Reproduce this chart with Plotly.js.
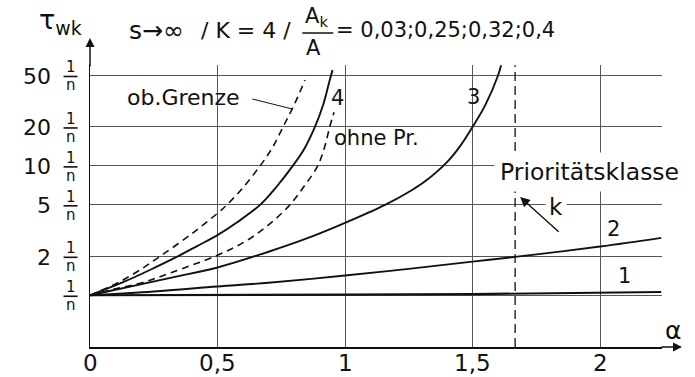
<!DOCTYPE html>
<html>
<head>
<meta charset="utf-8">
<script src="https://cdn.plot.ly/plotly-3.0.1.min.js"></script>
<style>html,body{margin:0;padding:0;background:#fff;}#chart{width:695px;height:377px;}</style>
</head>
<body>
<div id="chart"></div>
<script>
// ---- data (alpha on x, tau_wk in units of 1/n on y) ----
const curve1X = [0, 0.5, 1.0, 1.5, 2.0, 2.24];
const curve1Y = [1, 1.0, 1.01, 1.02, 1.04, 1.06];

const curve2X = [0, 0.25, 0.5, 0.7, 1.0, 1.25, 1.5, 1.667, 2.0, 2.24];
const curve2Y = [1, 1.07, 1.17, 1.25, 1.42, 1.6, 1.82, 1.98, 2.38, 2.78];

const curve3X = [0, 0.32, 0.5, 0.7, 0.85, 1.0, 1.157, 1.26, 1.314, 1.4, 1.45, 1.5, 1.55, 1.6, 1.612];
const curve3Y = [1, 1.37, 1.64, 2.17, 2.75, 3.63, 5.0, 6.46, 7.6, 10.7, 14.1, 20, 29.5, 50, 60];

const curve4X = [0, 0.125, 0.25, 0.336, 0.42, 0.5, 0.58, 0.667, 0.73, 0.795, 0.84, 0.882, 0.915, 0.94, 0.951];
const curve4Y = [1, 1.25, 1.62, 1.96, 2.4, 2.92, 3.7, 5, 6.84, 10, 13.5, 20, 30, 46, 55];

const obGrenzeX = [0, 0.092, 0.18, 0.275, 0.4, 0.5, 0.537, 0.6, 0.667, 0.715, 0.757, 0.8, 0.843];
const obGrenzeY = [1, 1.2, 1.5, 2, 3.0, 4.3, 5, 6.8, 10, 13.8, 20, 29.5, 46];

const ohnePrX = [0, 0.1, 0.21, 0.32, 0.5, 0.608, 0.7, 0.784, 0.845, 0.893, 0.92, 0.94, 0.957];
const ohnePrY = [1, 1.12, 1.26, 1.5, 2.04, 2.6, 3.5, 5, 7.2, 10, 14, 20, 26];

const limitAlpha = 1.667;

const xTickVals = [0, 0.5, 1, 1.5, 2];
const xTickText = ["0", "0,5", "1", "1,5", "2"];
const yTickVals = [1, 2, 5, 10, 20, 50];
const yTickNums = ["", "2", "5", "10", "20", "50"];

// ---- layout geometry ----
const FONT = "DejaVu Sans";
const L = 89.5, R = 33, T = 65, B = 30;
const Wd = 695 - L - R, Ht = 377 - T - B;
const yRange = [-0.40, 1.78];
const xRange = [0, 2.243];
const px2x = px => (px - L) / Wd;
const py2y = py => (T + Ht - py) / Ht;
const v2py = v => T + Ht - (Math.log10(v) - yRange[0]) / (yRange[1] - yRange[0]) * Ht;

const sm = {color: "#111", width: 1.9, shape: "spline", smoothing: 1};
const dashed = {color: "#111", width: 1.6, dash: "7px,5px", shape: "spline", smoothing: 1};

const traces = [
  {x: curve1X, y: curve1Y, mode: "lines", line: {color: "#111", width: 2.2}, name: "1"},
  {x: curve2X, y: curve2Y, mode: "lines", line: sm, name: "2"},
  {x: curve3X, y: curve3Y, mode: "lines", line: sm, name: "3"},
  {x: curve4X, y: curve4Y, mode: "lines", line: sm, name: "4"},
  {x: obGrenzeX, y: obGrenzeY, mode: "lines", line: dashed, name: "ob. Grenze"},
  {x: ohnePrX, y: ohnePrY, mode: "lines", line: dashed, name: "ohne Pr."},
  {x: [limitAlpha, limitAlpha], y: [Math.pow(10, yRange[0]), 60], mode: "lines",
   line: {color: "#111", width: 1.3, dash: "9px,5px"}, name: "limit"}
];

const ann = [];
const shapes = [];
// y tick labels: number + stacked fraction 1/n
yTickVals.forEach((v, i) => {
  const py = v2py(v);
  if (yTickNums[i]) {
    ann.push({xref: "paper", yref: "paper", x: px2x(52), y: py2y(py + 1), xanchor: "right", yanchor: "middle",
      text: yTickNums[i], showarrow: false, font: {family: FONT, size: 22, color: "#111"}});
  }
  ann.push({xref: "paper", yref: "paper", x: px2x(70), y: py2y(py), xanchor: "center", yanchor: "bottom",
    text: "1", showarrow: false, font: {family: FONT, size: 15, color: "#111"}, height: 14, borderpad: 0});
  ann.push({xref: "paper", yref: "paper", x: px2x(70), y: py2y(py + 2), xanchor: "center", yanchor: "top",
    text: "n", showarrow: false, font: {family: FONT, size: 15, color: "#111"}, height: 14, borderpad: 0});
  shapes.push({type: "line", xref: "paper", yref: "paper", x0: px2x(63), x1: px2x(77),
    y0: py2y(py + 1), y1: py2y(py + 1), line: {color: "#111", width: 1.6}});
});

// x tick labels
xTickVals.forEach((v, i) => {
  ann.push({xref: "x", yref: "paper", x: v, y: py2y(363), xanchor: "center", yanchor: "middle",
    text: xTickText[i], showarrow: false, font: {family: FONT, size: 23, color: "#111"}});
});

// axis arrows
ann.push({xref: "paper", yref: "paper", x: 0, y: py2y(38), ax: 0, ay: 30, axref: "pixel", ayref: "pixel",
  text: "", showarrow: true, arrowhead: 2, arrowsize: 1.2, arrowwidth: 1.5, arrowcolor: "#111"});
ann.push({xref: "paper", yref: "paper", x: px2x(682), y: 0, ax: -22, ay: 0, axref: "pixel", ayref: "pixel",
  text: "", showarrow: true, arrowhead: 2, arrowsize: 1.2, arrowwidth: 1.5, arrowcolor: "#111"});

// axis titles
ann.push({xref: "paper", yref: "paper", x: px2x(60), y: py2y(22), xanchor: "center", yanchor: "middle",
  text: "τ<sub>wk</sub>", showarrow: false, font: {family: FONT, size: 27, color: "#111"}});
ann.push({xref: "paper", yref: "paper", x: px2x(673), y: py2y(330), xanchor: "center", yanchor: "middle",
  text: "α", showarrow: false, font: {family: FONT, size: 25, color: "#111"}});

// title pieces
const tf = {family: FONT, size: 21, color: "#111"};
ann.push({xref: "paper", yref: "paper", x: px2x(127), y: py2y(30), xanchor: "left", yanchor: "middle",
  text: "s→∞", showarrow: false, font: {family: FONT, size: 25, color: "#111"}});
ann.push({xref: "paper", yref: "paper", x: px2x(199), y: py2y(30), xanchor: "left", yanchor: "middle",
  text: "/ K = 4 /", showarrow: false, font: {family: FONT, size: 22, color: "#111"}});
ann.push({xref: "paper", yref: "paper", x: px2x(303), y: py2y(32), xanchor: "left", yanchor: "bottom",
  text: "A<sub>k</sub>", showarrow: false, font: tf});
ann.push({xref: "paper", yref: "paper", x: px2x(313), y: py2y(34), xanchor: "center", yanchor: "top",
  text: "A", showarrow: false, font: tf});
shapes.push({type: "line", xref: "paper", yref: "paper", x0: px2x(302), x1: px2x(333),
  y0: py2y(33), y1: py2y(33), line: {color: "#111", width: 1.5}});
ann.push({xref: "paper", yref: "paper", x: px2x(334), y: py2y(30), xanchor: "left", yanchor: "middle",
  text: "= 0,03;0,25;0,32;0,4", showarrow: false, font: tf});

// curve labels
const lf = {family: FONT, size: 21, color: "#111"};
ann.push({xref: "paper", yref: "paper", x: px2x(125), y: py2y(97), xanchor: "left", yanchor: "middle",
  text: "ob.Grenze", showarrow: false, font: {family: FONT, size: 22, color: "#111"}});
shapes.push({type: "line", xref: "paper", yref: "paper", x0: px2x(252), x1: px2x(292),
  y0: py2y(99), y1: py2y(109), line: {color: "#111", width: 1}});
ann.push({xref: "paper", yref: "paper", x: px2x(337), y: py2y(98), xanchor: "center", yanchor: "middle",
  text: "4", showarrow: false, font: lf});
ann.push({xref: "paper", yref: "paper", x: px2x(332), y: py2y(138), xanchor: "left", yanchor: "middle",
  text: "ohne Pr.", showarrow: false, font: lf});
ann.push({xref: "paper", yref: "paper", x: px2x(473), y: py2y(97), xanchor: "center", yanchor: "middle",
  text: "3", showarrow: false, font: lf});
ann.push({xref: "paper", yref: "paper", x: px2x(589), y: py2y(172), xanchor: "center", yanchor: "middle",
  text: "Prioritätsklasse", showarrow: false, font: {family: FONT, size: 23.5, color: "#111"},
  bgcolor: "#fff", borderpad: 5});
ann.push({xref: "paper", yref: "paper", x: px2x(556), y: py2y(207), xanchor: "center", yanchor: "middle",
  text: "k", showarrow: false, font: {family: FONT, size: 23, color: "#111"}, bgcolor: "#fff", borderpad: 3});
ann.push({xref: "paper", yref: "paper", x: px2x(520), y: py2y(197), ax: 40, ay: 36, axref: "pixel", ayref: "pixel",
  text: "", showarrow: true, arrowhead: 2, arrowsize: 1.4, arrowwidth: 1.4, arrowcolor: "#111"});
ann.push({xref: "paper", yref: "paper", x: px2x(613), y: py2y(229), xanchor: "center", yanchor: "middle",
  text: "2", showarrow: false, font: lf});
ann.push({xref: "paper", yref: "paper", x: px2x(624), y: py2y(276), xanchor: "center", yanchor: "middle",
  text: "1", showarrow: false, font: lf});

const layout = {
  width: 695, height: 377,
  margin: {l: L, r: R, t: T, b: B, pad: 0},
  paper_bgcolor: "#fff", plot_bgcolor: "#fff",
  showlegend: false,
  xaxis: {range: xRange, tickmode: "array", tickvals: xTickVals, showticklabels: false, ticks: "", showgrid: true,
    gridcolor: "#555", gridwidth: 1, zeroline: false, showline: true, linecolor: "#111", linewidth: 1.5},
  yaxis: {type: "log", range: yRange, tickmode: "array", tickvals: yTickVals, showticklabels: false, ticks: "", showgrid: true,
    gridcolor: "#555", gridwidth: 1, zeroline: false, showline: true, linecolor: "#111", linewidth: 1.5},
  annotations: ann,
  shapes: shapes
};

Plotly.newPlot("chart", traces, layout, {staticPlot: true, displayModeBar: false});
</script>
</body>
</html>
